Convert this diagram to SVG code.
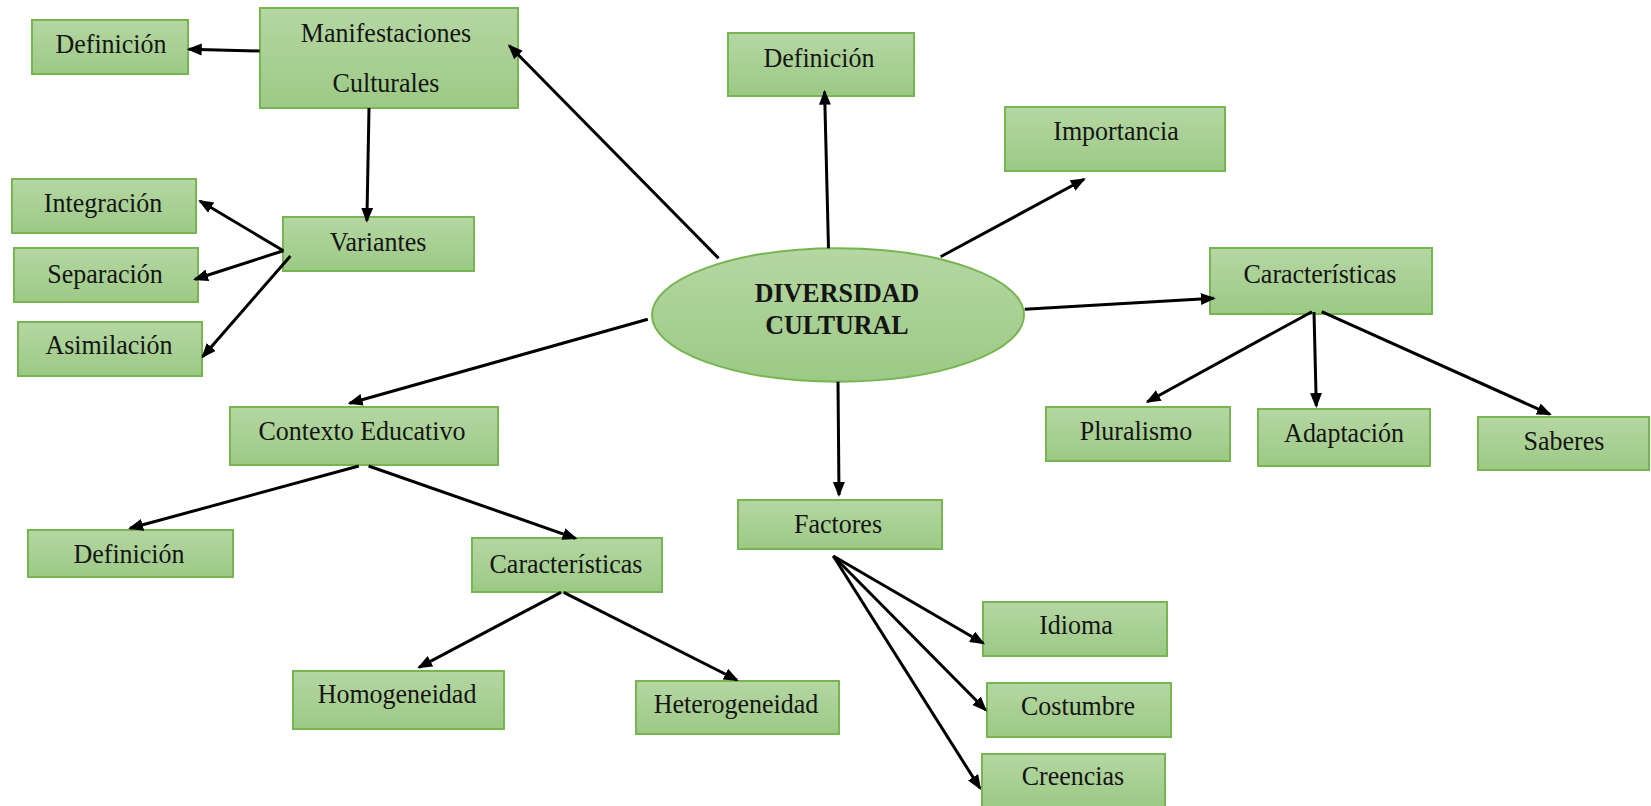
<svg xmlns="http://www.w3.org/2000/svg" width="1651" height="806" viewBox="0 0 1651 806">
<style>
.box{fill:url(#g);stroke:#77b552;stroke-width:2}
.t{font-family:"Liberation Serif","Times New Roman",serif;font-size:26px;fill:#151515;text-anchor:middle}
.b{font-weight:bold}
.c line{stroke:#000;stroke-width:3;marker-end:url(#ah)}
</style>
<defs>
<linearGradient id="g" x1="0" y1="0" x2="0" y2="1">
<stop offset="0" stop-color="#b5d7a3"/>
<stop offset="1" stop-color="#9cc985"/>
</linearGradient>
<marker id="ah" markerUnits="userSpaceOnUse" markerWidth="16" markerHeight="14" refX="13" refY="6" orient="auto">
<path d="M0,0 L15,6 L0,12 z" fill="#000"/>
</marker>
</defs>
<rect width="1651" height="806" fill="#fff"/>
<g id="diversidad"><ellipse class="box" cx="838" cy="315" rx="186" ry="66.7"/><text class="t b" transform="translate(837 301.7) scale(1 1.07)">DIVERSIDAD</text><text class="t b" transform="translate(837 334.3) scale(1 1.07)">CULTURAL</text></g>
<g id="manifestaciones"><rect class="box" x="260" y="8" width="258" height="100"/><text class="t" transform="translate(386 41.7) scale(1 1.07)">Manifestaciones</text><text class="t" transform="translate(386 91.7) scale(1 1.07)">Culturales</text></g>
<g id="def-manif"><rect class="box" x="32" y="20" width="156" height="54"/><text class="t" transform="translate(111 53.3) scale(1 1.07)">Definición</text></g>
<g id="variantes"><rect class="box" x="283" y="217" width="191" height="54"/><text class="t" transform="translate(378 250.7) scale(1 1.07)">Variantes</text></g>
<g id="integracion"><rect class="box" x="12" y="179" width="184" height="54"/><text class="t" transform="translate(103 211.7) scale(1 1.07)">Integración</text></g>
<g id="separacion"><rect class="box" x="14" y="248" width="184" height="54"/><text class="t" transform="translate(105 283.3) scale(1 1.07)">Separación</text></g>
<g id="asimilacion"><rect class="box" x="18" y="322" width="184" height="54"/><text class="t" transform="translate(109 354) scale(1 1.07)">Asimilación</text></g>
<g id="def-dc"><rect class="box" x="728" y="33" width="186" height="63"/><text class="t" transform="translate(819 66.7) scale(1 1.07)">Definición</text></g>
<g id="importancia"><rect class="box" x="1005" y="107" width="220" height="64"/><text class="t" transform="translate(1116 140) scale(1 1.07)">Importancia</text></g>
<g id="caract-dc"><rect class="box" x="1210" y="248" width="222" height="66"/><text class="t" transform="translate(1320 283.3) scale(1 1.07)">Características</text></g>
<g id="pluralismo"><rect class="box" x="1046" y="407" width="184" height="54"/><text class="t" transform="translate(1136 440) scale(1 1.07)">Pluralismo</text></g>
<g id="adaptacion"><rect class="box" x="1258" y="409" width="172" height="57"/><text class="t" transform="translate(1344 441.7) scale(1 1.07)">Adaptación</text></g>
<g id="saberes"><rect class="box" x="1478" y="417" width="171" height="53"/><text class="t" transform="translate(1564 450) scale(1 1.07)">Saberes</text></g>
<g id="contexto"><rect class="box" x="230" y="407" width="268" height="58"/><text class="t" transform="translate(362 440) scale(1 1.07)">Contexto Educativo</text></g>
<g id="def-contexto"><rect class="box" x="28" y="530" width="205" height="47"/><text class="t" transform="translate(129 562.7) scale(1 1.07)">Definición</text></g>
<g id="caract-contexto"><rect class="box" x="472" y="538" width="190" height="54"/><text class="t" transform="translate(566 572.7) scale(1 1.07)">Características</text></g>
<g id="homogeneidad"><rect class="box" x="293" y="671" width="211" height="58"/><text class="t" transform="translate(397 703.3) scale(1 1.07)">Homogeneidad</text></g>
<g id="heterogeneidad"><rect class="box" x="636" y="681" width="203" height="53"/><text class="t" transform="translate(736 713.3) scale(1 1.07)">Heterogeneidad</text></g>
<g id="factores"><rect class="box" x="738" y="500" width="204" height="49"/><text class="t" transform="translate(838 532.7) scale(1 1.07)">Factores</text></g>
<g id="idioma"><rect class="box" x="983" y="602" width="184" height="54"/><text class="t" transform="translate(1076 634) scale(1 1.07)">Idioma</text></g>
<g id="costumbre"><rect class="box" x="987" y="683" width="184" height="54"/><text class="t" transform="translate(1078 715) scale(1 1.07)">Costumbre</text></g>
<g id="creencias"><rect class="box" x="982" y="754" width="183" height="53"/><text class="t" transform="translate(1073 785) scale(1 1.07)">Creencias</text></g>
<g id="connectors" class="c">
<line x1="718.6" y1="258.3" x2="509.3" y2="45.7"/>
<line x1="259.6" y1="51" x2="188.7" y2="49.3"/>
<line x1="369" y1="108" x2="366.9" y2="220.7"/>
<line x1="283.4" y1="250.7" x2="200" y2="201"/>
<line x1="283.4" y1="250.7" x2="195" y2="279.3"/>
<line x1="290.4" y1="256" x2="202.7" y2="356.7"/>
<line x1="828.5" y1="248.3" x2="824.6" y2="91.7"/>
<line x1="940.6" y1="256.7" x2="1084" y2="179.3"/>
<line x1="1024.8" y1="309.3" x2="1213.8" y2="298.3"/>
<line x1="1312" y1="311.7" x2="1147.4" y2="401.7"/>
<line x1="1314" y1="312" x2="1316.3" y2="406"/>
<line x1="1321.7" y1="311.7" x2="1550" y2="414.3"/>
<line x1="647.8" y1="319.3" x2="349.6" y2="403.3"/>
<line x1="358.8" y1="466" x2="130" y2="528.3"/>
<line x1="368.6" y1="466" x2="575.6" y2="538.3"/>
<line x1="561" y1="592.3" x2="419" y2="667.3"/>
<line x1="563.7" y1="592.3" x2="737" y2="680"/>
<line x1="838" y1="381.7" x2="839" y2="495"/>
<line x1="833.3" y1="556" x2="983.3" y2="643.3"/>
<line x1="833.3" y1="556" x2="985.7" y2="710"/>
<line x1="833.3" y1="556" x2="980" y2="788.3"/>
</g>
</svg>
